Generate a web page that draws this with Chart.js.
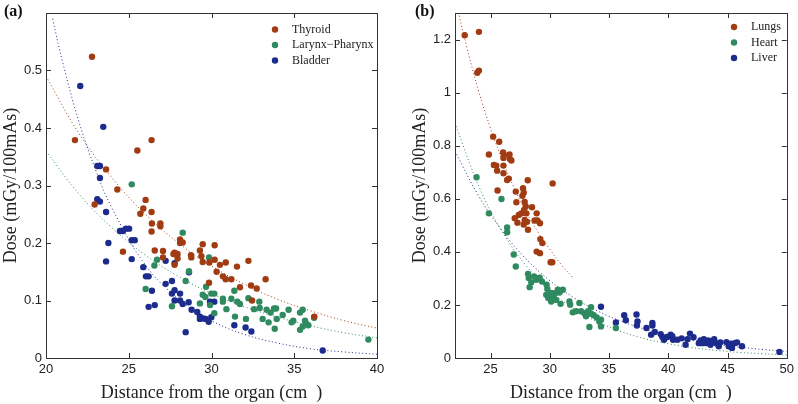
<!DOCTYPE html>
<html>
<head>
<meta charset="utf-8">
<script src="https://cdn.jsdelivr.net/npm/chart.js@4.4.0/dist/chart.umd.min.js"></script>
<style>
    body { margin: 0; background: #fff; }
    #wrap { position: relative; width: 798px; height: 404px; }
    #chart-a { position: absolute; left: 0; top: 0; }
    #chart-b { position: absolute; left: 400px; top: 0; }
</style>
</head>
<body>
<div id="wrap">
    <canvas id="chart-a" width="400" height="404"></canvas>
    <canvas id="chart-b" width="398" height="404"></canvas>
</div>
<script>
// panel (a) - [distance cm, dose mGy/100mAs]
const thyroid = [
    [21.75, 0.379], [22.78, 0.524], [22.94, 0.267], [23.63, 0.328], [24.31, 0.293],
    [24.65, 0.185], [25.52, 0.361], [25.7, 0.251], [25.88, 0.26], [26.02, 0.275],
    [26.38, 0.379], [26.38, 0.254], [26.4, 0.234], [26.38, 0.22], [26.57, 0.187],
    [26.91, 0.234], [26.91, 0.229], [27.07, 0.186], [27.07, 0.175], [27.7, 0.181],
    [27.77, 0.162], [27.77, 0.183], [27.95, 0.181], [27.95, 0.173], [28.1, 0.206],
    [28.1, 0.2], [28.26, 0.201], [28.76, 0.179], [28.78, 0.175], [29.3, 0.187],
    [29.47, 0.198], [29.39, 0.177], [29.47, 0.167], [29.85, 0.131], [29.87, 0.166],
    [30.19, 0.196], [30.19, 0.171], [30.31, 0.15], [30.51, 0.162], [30.69, 0.142],
    [30.86, 0.166], [30.86, 0.137], [31.2, 0.137], [31.54, 0.159], [31.72, 0.123],
    [32.23, 0.169], [32.39, 0.126], [32.45, 0.1], [32.73, 0.121], [33.27, 0.137],
    [36.21, 0.072]
];
const larynx = [
    [25.18, 0.302], [28.26, 0.218], [26.55, 0.161], [26.71, 0.171], [26.02, 0.12],
    [28.44, 0.134], [28.64, 0.151], [29.85, 0.175], [29.67, 0.124], [29.47, 0.11],
    [29.3, 0.095], [29.63, 0.106], [29.99, 0.112], [30.17, 0.112], [30.17, 0.078],
    [29.91, 0.092], [27.61, 0.09], [30.69, 0.103], [30.69, 0.098], [30.9, 0.085],
    [31.2, 0.103], [31.38, 0.117], [31.42, 0.072], [31.56, 0.098], [31.72, 0.094],
    [32.08, 0.068], [32.23, 0.104], [32.57, 0.085], [32.89, 0.098], [32.91, 0.087],
    [33.09, 0.068], [33.33, 0.084], [33.45, 0.062], [33.57, 0.079], [33.78, 0.086],
    [33.9, 0.086], [33.82, 0.051], [33.94, 0.068], [34.3, 0.075], [34.66, 0.084],
    [34.84, 0.062], [34.94, 0.065], [35.35, 0.079], [35.51, 0.084], [35.35, 0.049],
    [35.51, 0.055], [35.65, 0.065], [35.71, 0.06], [35.85, 0.057], [36.2, 0.07],
    [39.48, 0.032]
];
const bladder = [
    [22.07, 0.473], [23.46, 0.402], [23.1, 0.334], [23.26, 0.334], [23.26, 0.313],
    [23.1, 0.276], [23.26, 0.272], [23.63, 0.254], [23.77, 0.2], [23.63, 0.168],
    [24.47, 0.221], [24.65, 0.221], [24.83, 0.225], [25.02, 0.225], [25.18, 0.205],
    [25.36, 0.205], [25.18, 0.172], [25.88, 0.158], [26.04, 0.142], [26.2, 0.142],
    [26.4, 0.117], [26.2, 0.089], [26.57, 0.092], [27.23, 0.169], [27.23, 0.129],
    [27.61, 0.134], [27.61, 0.112], [27.77, 0.118], [27.77, 0.165], [27.77, 0.1],
    [28.1, 0.112], [28.1, 0.1], [28.26, 0.094], [28.44, 0.045], [28.62, 0.097],
    [28.64, 0.149], [28.8, 0.084], [29.14, 0.08], [29.3, 0.072], [29.49, 0.069],
    [29.3, 0.068], [29.65, 0.068], [29.83, 0.063], [29.91, 0.098], [29.99, 0.071],
    [30.17, 0.098], [31.38, 0.057], [32.06, 0.053], [32.41, 0.046], [36.72, 0.013]
];
// fitted curves
const thyroidFit = [
    [20, 0.49], [22, 0.39], [24, 0.313], [26, 0.25], [28, 0.2], [30, 0.16],
    [32, 0.128], [34, 0.102], [36, 0.082], [38, 0.065], [40, 0.052]
];
const larynxFit = [
    [20, 0.36], [22, 0.285], [24, 0.226], [26, 0.179], [28, 0.142], [30, 0.112],
    [32, 0.089], [34, 0.071], [36, 0.056], [38, 0.044], [40, 0.035]
];
const bladderFit = [
    [20.4, 0.59], [21, 0.515], [22, 0.41], [23, 0.327], [24, 0.26], [26, 0.162],
    [28, 0.103], [30, 0.065], [32, 0.041], [34, 0.026], [36, 0.016], [38, 0.0105], [40, 0.0065]
];

// panel (b)
const lungs = [
    [22.82, 1.216], [24.02, 1.229], [23.88, 1.075], [24.02, 1.083], [25.22, 0.834],
    [25.73, 0.815], [24.86, 0.767], [25.28, 0.727], [25.48, 0.725], [25.56, 0.706],
    [26.06, 0.775], [26.12, 0.765], [26.09, 0.754], [26.09, 0.725], [26.09, 0.696],
    [26.6, 0.767], [26.62, 0.751], [26.76, 0.744], [26.4, 0.671], [26.54, 0.676],
    [25.59, 0.631], [28.14, 0.67], [30.24, 0.658], [27.13, 0.627], [27.18, 0.587],
    [27.04, 0.527], [27.27, 0.51], [27.74, 0.64], [27.8, 0.623], [27.69, 0.611],
    [27.88, 0.588], [27.97, 0.571], [27.83, 0.558], [27.6, 0.545], [27.38, 0.539],
    [28.02, 0.545], [27.88, 0.52], [27.8, 0.503], [28.08, 0.513], [28.16, 0.483],
    [28.5, 0.568], [28.89, 0.545], [28.72, 0.518], [28.95, 0.518], [29.17, 0.508],
    [29.2, 0.448], [29.37, 0.433], [28.89, 0.401], [29.17, 0.395], [30.07, 0.361],
    [30.21, 0.361]
];
const heart = [
    [23.82, 0.681], [24.86, 0.545], [25.92, 0.599], [26.4, 0.492], [26.4, 0.474],
    [26.96, 0.39], [27.13, 0.345], [28.16, 0.317], [28.22, 0.301], [28.44, 0.285],
    [28.3, 0.267], [28.67, 0.307], [28.86, 0.295], [29.14, 0.303], [29.34, 0.288],
    [29.73, 0.276], [29.79, 0.26], [29.7, 0.238], [29.87, 0.226], [30.12, 0.245],
    [30.29, 0.228], [30.49, 0.245], [30.68, 0.257], [30.82, 0.247], [31.1, 0.257],
    [30.12, 0.213], [30.54, 0.219], [30.91, 0.204], [31.66, 0.213], [31.72, 0.201],
    [31.94, 0.172], [32.22, 0.176], [32.5, 0.207], [32.64, 0.176], [32.92, 0.169],
    [33.06, 0.157], [33.23, 0.176], [33.48, 0.191], [33.48, 0.167], [33.71, 0.161],
    [33.96, 0.153], [33.34, 0.117], [34.18, 0.138], [34.32, 0.119], [34.32, 0.144],
    [35.58, 0.113]
];
const liver = [
    [34.32, 0.193], [35.58, 0.134], [36.28, 0.161], [36.42, 0.142], [37.32, 0.164],
    [37.4, 0.138], [37.35, 0.122], [38.16, 0.113], [38.66, 0.132], [38.66, 0.122],
    [38.55, 0.088], [38.86, 0.098], [39.36, 0.09], [39.5, 0.079], [39.64, 0.069],
    [39.92, 0.079], [40.2, 0.088], [40.34, 0.082], [40.4, 0.069], [40.76, 0.069],
    [41.13, 0.074], [41.46, 0.05], [41.63, 0.071], [41.83, 0.092], [42.13, 0.078],
    [42.58, 0.056], [42.72, 0.066], [42.86, 0.056], [43.0, 0.071], [43.2, 0.056],
    [43.37, 0.066], [43.56, 0.05], [43.7, 0.063], [43.87, 0.071], [44.04, 0.056],
    [44.26, 0.044], [44.4, 0.059], [44.91, 0.06], [45.1, 0.044], [45.27, 0.054],
    [45.38, 0.038], [45.6, 0.056], [45.8, 0.059], [46.22, 0.044], [49.38, 0.023]
];
const lungsFit = [
    [22.35, 1.29], [23, 1.17], [24, 1.005], [25, 0.865], [26, 0.745], [27, 0.64],
    [28, 0.55], [29, 0.475], [30, 0.41], [31, 0.35], [31.9, 0.305]
];
const heartFit = [
    [22, 0.886], [24, 0.648], [26, 0.475], [28, 0.348], [30, 0.255], [32, 0.186],
    [34, 0.137], [36, 0.1], [38, 0.073], [40, 0.054], [42, 0.039], [44, 0.029],
    [46, 0.021], [48, 0.016], [50, 0.011]
];
const liverFit = [
    [22, 0.78], [24, 0.61], [26, 0.478], [28, 0.373], [30, 0.292], [32, 0.228],
    [34, 0.178], [36, 0.139], [38, 0.109], [40, 0.085], [42, 0.067], [44, 0.052],
    [46, 0.041], [48, 0.032], [50, 0.025]
];

// tick labels
const xTicksA = [20, 25, 30, 35, 40];
const yTicksA = [0, 0.1, 0.2, 0.3, 0.4, 0.5];
const xTicksB = [25, 30, 35, 40, 45, 50];
const yTicksB = [0, 0.2, 0.4, 0.6, 0.8, 1, 1.2];

const ORANGE = "#a13c12";
const GREEN = "#2f8a60";
const BLUE = "#1c2b8c";

const toPts = (arr) => arr.map(([x, y]) => ({ x: x, y: y }));

function pointSet(label, arr, color) {
    return {
        label: label,
        data: toPts(arr),
        backgroundColor: color,
        borderColor: color,
        borderWidth: 0,
        pointRadius: 3.2,
        pointHoverRadius: 3.2,
        order: 1,
        inLegend: true,
    };
}

function fitSet(arr, color) {
    return {
        data: toPts(arr),
        showLine: true,
        borderColor: color,
        borderWidth: 1,
        borderDash: [1, 2.5],
        pointRadius: 0,
        tension: 0.4,
        order: 2,
        inLegend: false,
    };
}

// box, inward ticks, legend and panel tag
const framePlugin = {
    id: "frame",
    afterDraw(chart, args, opts) {
        const { ctx, chartArea: a, scales } = chart;
        const x = scales.x;
        const y = scales.y;
        ctx.save();
        ctx.strokeStyle = "#333";
        ctx.lineWidth = 1;
        ctx.beginPath();
        x.ticks.forEach((t) => {
            const px = Math.round(x.getPixelForValue(t.value)) + 0.5;
            ctx.moveTo(px, a.bottom);
            ctx.lineTo(px, a.bottom - 5);
            ctx.moveTo(px, a.top);
            ctx.lineTo(px, a.top + 5);
        });
        y.ticks.forEach((t) => {
            const py = Math.round(y.getPixelForValue(t.value)) + 0.5;
            ctx.moveTo(a.left, py);
            ctx.lineTo(a.left + 5, py);
            ctx.moveTo(a.right, py);
            ctx.lineTo(a.right - 5, py);
        });
        ctx.stroke();
        ctx.strokeRect(Math.round(a.left) + 0.5, Math.round(a.top) + 0.5,
            Math.round(a.right - a.left), Math.round(a.bottom - a.top));

        // legend
        ctx.font = "12px 'Liberation Serif'";
        ctx.textBaseline = "middle";
        ctx.textAlign = "left";
        let row = 0;
        chart.data.datasets.forEach((ds) => {
            if (!ds.inLegend) return;
            const ly = opts.legendY[row++];
            ctx.fillStyle = ds.backgroundColor;
            ctx.beginPath();
            ctx.arc(opts.legendX, ly, 3.2, 0, Math.PI * 2);
            ctx.fill();
            ctx.fillStyle = "#222";
            ctx.fillText(ds.label, opts.legendX + 17, ly);
        });

        ctx.font = "bold 16px 'Liberation Serif'";
        ctx.fillStyle = "#111";
        ctx.fillText(opts.tag, opts.tagX, 12);
        ctx.restore();
    },
};

function makeOptions(cfg) {
    return {
        responsive: false,
        animation: false,
        layout: { padding: { left: cfg.padLeft, right: cfg.padRight, top: 13, bottom: 0 } },
        plugins: {
            legend: { display: false },
            tooltip: { enabled: false },
            frame: { legendX: cfg.legendX, legendY: cfg.legendY, tag: cfg.tag, tagX: cfg.tagX },
        },
        scales: {
            x: {
                type: "linear",
                min: cfg.xMin,
                max: cfg.xMax,
                grid: { display: false, drawTicks: false },
                border: { display: false },
                afterBuildTicks: (s) => { s.ticks = cfg.xTicks.map((v) => ({ value: v })); },
                afterFit: (s) => { s.height = 46; },
                ticks: {
                    padding: 4,
                    color: "#222",
                    font: { family: "'Liberation Sans'", size: 13 },
                    callback: (v) => String(v),
                },
                title: {
                    display: true,
                    text: "Distance from the organ (cm  )",
                    color: "#222",
                    padding: 0,
                    font: { family: "'Liberation Serif'", size: 18 },
                },
            },
            y: {
                type: "linear",
                min: 0,
                max: cfg.yMax,
                grid: { display: false, drawTicks: false },
                border: { display: false },
                afterBuildTicks: (s) => { s.ticks = cfg.yTicks.map((v) => ({ value: v })); },
                afterFit: (s) => { s.width = 46; },
                ticks: {
                    padding: 4,
                    color: "#222",
                    font: { family: "'Liberation Sans'", size: 13 },
                    callback: (v) => String(v),
                },
                title: {
                    display: true,
                    text: "Dose (mGy/100mAs)",
                    color: "#222",
                    padding: 0,
                    font: { family: "'Liberation Serif'", size: 18 },
                },
            },
        },
    };
}

new Chart(document.getElementById("chart-a"), {
    type: "scatter",
    data: {
        datasets: [
            pointSet("Thyroid", thyroid, ORANGE),
            pointSet("Larynx\u2212Pharynx", larynx, GREEN),
            pointSet("Bladder", bladder, BLUE),
            fitSet(thyroidFit, ORANGE),
            fitSet(larynxFit, GREEN),
            fitSet(bladderFit, BLUE),
        ],
    },
    options: makeOptions({
        padLeft: 0, padRight: 23, xMin: 20, xMax: 40, yMax: 0.6,
        xTicks: xTicksA, yTicks: yTicksA,
        legendX: 275, legendY: [29.5, 45, 60.5], tag: "(a)", tagX: 4,
    }),
    plugins: [framePlugin],
});

new Chart(document.getElementById("chart-b"), {
    type: "scatter",
    data: {
        datasets: [
            pointSet("Lungs", lungs, ORANGE),
            pointSet("Heart", heart, GREEN),
            pointSet("Liver", liver, BLUE),
            fitSet(lungsFit, ORANGE),
            fitSet(heartFit, GREEN),
            fitSet(liverFit, BLUE),
        ],
    },
    options: makeOptions({
        padLeft: 9, padRight: 9, xMin: 22, xMax: 50, yMax: 1.3,
        xTicks: xTicksB, yTicks: yTicksB,
        legendX: 334, legendY: [27, 42.5, 58], tag: "(b)", tagX: 15,
    }),
    plugins: [framePlugin],
});
</script>
</body>
</html>
